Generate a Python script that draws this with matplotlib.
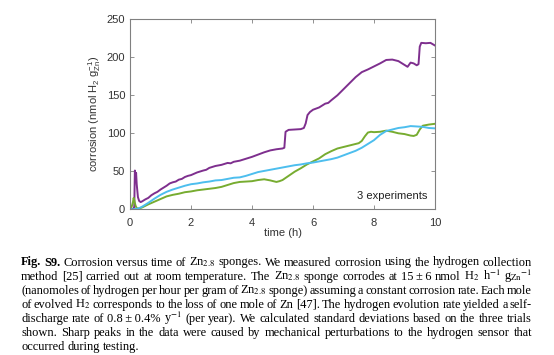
import matplotlib.pyplot as plt

# corrosion curves (time in h, corrosion in nmol H2 / g Zn)
t_purple = [0, 0.1, 0.14, 0.16, 0.18, 0.2, 0.22, 0.26, 0.3, 0.35, 0.4, 0.5, 0.6, 0.7, 0.8, 0.9,
            1.0, 1.1, 1.2, 1.3, 1.4, 1.5, 1.6, 1.7, 1.8, 1.9, 2.0, 2.2, 2.4, 2.5, 2.6, 2.8, 3.0,
            3.2, 3.3, 3.4, 3.6, 3.8, 4.0, 4.2, 4.4, 4.6, 4.8, 5.0, 5.06, 5.1, 5.2, 5.4, 5.6, 5.7,
            5.76, 5.82, 5.9, 6.0, 6.2, 6.4, 6.5, 6.6, 6.8, 7.0, 7.2, 7.4, 7.6, 7.8, 8.0, 8.2, 8.4,
            8.6, 8.8, 9.0, 9.1, 9.2, 9.3, 9.4, 9.46, 9.5, 9.55, 9.7, 9.85, 10.0]
purple = [0, 0.5, 3, 51, 36, 48, 33, 16, 11, 9.5, 10.5, 13, 15, 18.5, 21, 23,
          26, 28.5, 31, 34, 35.5, 36.5, 39, 40, 42.5, 44, 45, 48.5, 51, 52, 54.5, 57, 58.5,
          61, 60.5, 62.5, 64, 66.5, 69, 72, 75, 77.5, 79, 80, 81, 102, 104.5, 105, 105.5, 107,
          113, 124, 128, 131, 134, 139, 140, 143.5, 150, 158, 166, 174, 180.5, 184, 188, 192, 196.5,
          197, 195, 190, 187.5, 193, 192, 189.5, 191, 214, 219, 218.5, 219, 215.5]

t_cyan = [0, 0.1, 0.2, 0.3, 0.4, 0.5, 0.6, 0.8, 1.0, 1.2, 1.4, 1.6, 1.8, 2.0, 2.2, 2.4, 2.6,
          2.8, 3.0, 3.2, 3.4, 3.6, 3.8, 4.0, 4.2, 4.4, 4.6, 4.8, 5.0, 5.2, 5.4, 5.6, 5.8, 6.0,
          6.2, 6.4, 6.6, 6.8, 7.0, 7.2, 7.4, 7.6, 7.8, 8.0, 8.2, 8.4, 8.6, 8.8, 9.0, 9.2, 9.4,
          9.6, 9.8, 10.0]
cyan = [0, 0, 0.5, 1.5, 3.5, 6, 8.5, 14, 19, 23, 26, 28.5, 31, 33, 34, 35.5, 36.5,
        38, 38.5, 40, 41.5, 42, 44, 46.5, 49, 50.5, 52, 53.5, 55, 56.5, 58, 59, 60.5, 61.5,
        63, 64.5, 66, 68, 71, 74, 77, 81, 86, 91, 98, 103, 105, 107, 108, 109.5, 109,
        108.5, 107, 106.5]

t_green = [0, 0.06, 0.1, 0.12, 0.14, 0.18, 0.22, 0.3, 0.4, 0.5, 0.6, 0.8, 1.0, 1.2, 1.4, 1.6,
           1.8, 2.0, 2.2, 2.4, 2.6, 2.8, 3.0, 3.2, 3.4, 3.6, 3.8, 4.0, 4.2, 4.4, 4.6, 4.7, 4.8,
           4.9, 5.0, 5.2, 5.4, 5.6, 5.8, 6.0, 6.2, 6.4, 6.6, 6.8, 7.0, 7.2, 7.4, 7.5, 7.6, 7.7,
           7.8, 7.9, 8.0, 8.2, 8.4, 8.6, 8.8, 9.0, 9.1, 9.2, 9.3, 9.4, 9.5, 9.6, 9.8, 10.0]
green = [0, 4, 10, 15, 12, 5, 1.5, 1, 2.5, 4.5, 6.5, 10, 13.5, 17, 19, 20.5,
         22.5, 23.5, 25, 26, 27, 28, 29.5, 32, 34.5, 36, 36.5, 37, 38.5, 39.5, 38, 37, 36,
         37, 38.5, 44, 49.5, 54, 59, 63, 67, 72.5, 76.5, 80, 82, 84, 86, 87, 90, 96,
         101, 102, 101.5, 102, 103.5, 102, 100, 99, 98, 97, 96.5, 98, 105, 110, 111.5, 112.5]

x_ticks = [0, 2, 4, 6, 8, 10]
y_ticks = [0, 50, 100, 150, 200, 250]

caption = [
    "Fig. S9. Corrosion versus time of Zn$_{2.8}$ sponges. We measured corrosion using the hydrogen collection",
    "method [25] carried out at room temperature. The Zn$_{2.8}$ sponge corrodes at 15\u2009\u00b1\u20096 nmol "
    "H$_2$ h$^{-1}$ g$_{\\mathrm{Zn}}$$^{-1}$",
    "(nanomoles of hydrogen per hour per gram of Zn$_{2.8}$ sponge) assuming a constant corrosion rate. Each mole",
    "of evolved H$_2$ corresponds to the loss of one mole of Zn [47]. The hydrogen evolution rate yielded a self-",
    "discharge rate of 0.8\u2009\u00b1\u20090.4% y$^{-1}$ (per year). We calculated standard deviations based on the three trials",
    "shown. Sharp peaks in the data were caused by mechanical perturbations to the hydrogen sensor that",
    "occurred during testing.",
]

plt.rcParams['mathtext.fontset'] = 'custom'
plt.rcParams['mathtext.rm'] = 'Liberation Sans'
plt.rcParams['mathtext.it'] = 'Liberation Sans:italic'
plt.rcParams['font.family'] = ['Liberation Sans', 'DejaVu Sans']

W, H = 554, 355
fig = plt.figure(figsize=(W / 100, H / 100), dpi=100)
ax = fig.add_axes([130 / W, 1 - 209.3 / H, 305 / W, 190 / H])

ax.plot(t_purple, purple, color='#7E2F8E', lw=1.4)
ax.plot(t_green, green, color='#77AC30', lw=1.4)
ax.plot(t_cyan, cyan, color='#4DBEEE', lw=1.4)

ax.set_xlim(0, 10)
ax.set_ylim(0, 250)
ax.set_xticks(x_ticks)
ax.set_yticks(y_ticks)
ax.tick_params(direction='in', top=True, right=True, length=3, width=0.6,
               color='#808080', labelsize=8, labelcolor='#333333', pad=3.5)
ax.tick_params(axis='x', pad=6)
for s in ax.spines.values():
    s.set_color('#808080')
    s.set_linewidth(0.8)

ax.set_xlabel('time (h)', fontsize=8, color='#333333')
ax.xaxis.set_label_coords(0.5, -0.1)
ax.set_ylabel('corrosion (nmol H$_2$ g$_{\\mathrm{Zn}}^{-1}$)', fontsize=8, color='#333333')
ax.yaxis.set_label_coords(-0.088, 0.5)
ax.text(0.974, 0.07, '3 experiments', transform=ax.transAxes, ha='right', va='center',
        fontsize=8, color='#222222')

# caption, justified word by word
renderer = fig.canvas.get_renderer()
left, right = 21, 532
base0, step = 265.5, 14.05
for i, line in enumerate(caption):
    words = line.split(' ')
    texts = []
    for j, w in enumerate(words):
        bold = i == 0 and j < 2
        t = fig.text(0, 0, w, fontsize=8.9, family=['Liberation Serif', 'DejaVu Serif'],
                     fontweight='bold' if bold else 'normal', math_fontfamily='stix',
                     ha='left', va='baseline', color='black')
        texts.append(t)
    widths = [t.get_window_extent(renderer).width for t in texts]
    if i < len(caption) - 1:
        gap = (right - left - sum(widths)) / (len(words) - 1)
    else:
        gap = 3.0
    x = left
    y = base0 + i * step
    for t, wd in zip(texts, widths):
        t.set_position((x / W, 1 - y / H))
        x += wd + gap

fig.savefig('out.png', dpi=100)
